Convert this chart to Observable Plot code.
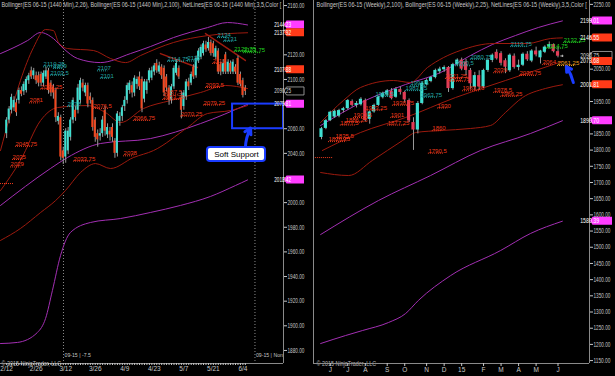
<!DOCTYPE html>
<html><head><meta charset="utf-8">
<script src="https://cdn.jsdelivr.net/npm/d3@7"></script>
<script src="https://cdn.jsdelivr.net/npm/@observablehq/plot@0.6"></script>
<style>
html,body{margin:0;padding:0;background:#000;width:615px;height:376px;overflow:hidden}
#wrap{position:relative;width:615px;height:376px;background:#000}
#left{position:absolute;left:0;top:0}
#right{position:absolute;left:308px;top:0}
</style></head>
<body><div id="wrap"><div id="left"></div><div id="right"></div></div>
<script>
const FONT = '"Liberation Sans","Arial",sans-serif';

// ---------- LEFT PANEL (daily, ES 06-15 1440 Min) ----------
const lHeader = "Bollinger(ES 06-15 (1440 Min),2,26), Bollinger(ES 06-15 (1440 Min),2,100), NetLines(ES 06-15 (1440 Min),3,5,Color [";
const lOpen  = [2056,2067,2075,2077,2081,2083,2091,2090,2091,2099,2107,2103,2103,2103,2104,2097,2102,2107,2097,2094,2091,2066,2069,2042,2037,2042,2053,2067,2075,2075,2083,2097,2089,2095,2086,2083,2067,2056,2054,2056,2075,2055,2058,2061,2050,2040,2066,2070,2078,2083,2091,2095,2089,2096,2102,
                2100,2084,2091,2099,2101,2106,2113,2106,2110,2109,2102,2093,2083,2094,2105,2109,2085,2078,2086,2098,2097,2110,2103,2115,2118,2121,2128,2125,2130,2129,2118,2123,2112,2106,2120,2106,2113,2106,2110,2117,2104,2099,2093];
const lHigh  = [2069,2078,2088,2086,2084,2093,2094,2098,2102,2105,2110,2109,2106,2106,2106,2107,2110,2109,2099,2096,2093,2073,2071,2045,2060,2061,2069,2085,2078,2096,2101,2100,2097,2097,2089,2085,2069,2059,2060,2070,2078,2064,2061,2064,2052,2074,2073,2079,2086,2097,2099,2098,2103,2102,2106,
                2102,2100,2100,2109,2110,2113,2116,2114,2112,2111,2104,2095,2096,2111,2116,2111,2090,2091,2100,2101,2106,2112,2119,2125,2128,2131,2131,2134,2132,2131,2127,2125,2114,2116,2122,2116,2115,2116,2112,2119,2106,2101,2095];
const lLow   = [2052,2064,2072,2074,2070,2080,2086,2087,2089,2096,2100,2100,2096,2094,2094,2094,2100,2088,2086,2084,2065,2063,2034,2031,2032,2039,2050,2064,2066,2072,2080,2090,2086,2077,2080,2058,2049,2045,2050,2053,2054,2052,2050,2049,2036,2037,2062,2066,2074,2080,2088,2085,2086,2092,2091,
                2073,2081,2088,2097,2099,2103,2105,2104,2100,2086,2090,2079,2080,2092,2103,2100,2068,2075,2083,2091,2095,2100,2101,2113,2116,2119,2122,2123,2119,2118,2116,2104,2103,2104,2104,2104,2104,2104,2104,2095,2094,2085,2087];
const lClose = [2067,2076,2085.5,2083,2073,2091,2088,2096,2100,2103,2102,2107,2099,2097,2097,2105,2107,2091,2089,2089,2069,2070,2037,2036,2058,2058,2067,2083,2069,2093,2099,2093,2095,2080,2083,2061,2053,2051,2056,2067,2058,2061,2055,2053,2040,2072,2070,2077,2083,2095,2097,2089,2101,2100,2094,
                2076,2098,2098,2107,2107,2111,2107,2111,2103,2089,2093,2083,2094,2109,2113,2102,2075,2089,2098,2094,2104,2102,2117,2123,2126,2129,2124,2130,2121,2121,2125,2106,2106,2113,2106,2114,2106,2114,2106,2097,2096,2087,2090.25];

const lXLabels = ["2/12","2/26","3/12","3/26","4/9","4/23","5/7","5/21","6/4"];
const lXLabelIdx = [0,12,24,36,48,60,72,84,96];
const lYTicks = [1880,1900,1920,1940,1960,1980,2000,2020,2040,2060,2080,2100,2120,2140,2160];
const lXDomain = [-2.5, 112.5];
const lYDomain = [1869.4, 2164.1];
const lSessionLines = [23.1, 100.9];
const lSessionText = ["09-15 | -7.5", "09-15 | Non"];

// Bollinger bands [bar index, price]
const lBB100Upper = [[-2.5,2121],[8.5,2131.6],[13.8,2138.1],[19,2133.2],[23.1,2125.1],[28.8,2117],[38.1,2113.7],[50.3,2121],[58.4,2126.7],[67.8,2134],[81.6,2142.1],[89.7,2146.2],[97.9,2144.23]];
const lBB100Mid   = [[-2.5,1997.7],[17.8,2027.7],[24.7,2036.6],[38.1,2048],[58.4,2052],[78.8,2064.2],[97.9,2079.81]];
const lBB100Lower = [[-2.5,1885.6],[4.4,1886.5],[12.5,1894.6],[15.8,1905.9],[18.6,1928.7],[21.9,1957.1],[25.9,1975.7],[34.1,1983.9],[46.3,1987.1],[58.4,1992],[70.6,1997.7],[82.8,2005],[93,2013.9],[97.9,2018.42]];
const lBB26Upper  = [[-2.5,2042.3],[1.6,2072.3],[5.6,2099.1],[10.9,2125.9],[15.8,2140.5],[19,2139.7],[21.1,2130],[24.7,2125.1],[35.3,2123.5],[42.2,2117],[48.3,2113.7],[54.4,2119.4],[67.8,2130],[81.6,2135.6],[97.9,2137.92]];
const lBB26Mid    = [[-2.5,2009.8],[5.6,2034.2],[13.8,2066.7],[20.7,2077.2],[32.9,2078.8],[40.2,2073.1],[46.3,2065],[55.6,2076.4],[66.6,2082.9],[78.8,2089.4],[88.9,2095.1],[97.9,2092.6]];
const lBB26Lower  = [[-2.5,1969.3],[5.6,1979],[13.8,1992],[19.9,2001.7],[23.9,2009.8],[30,2024.4],[36.1,2031.7],[42.2,2027.7],[51.5,2036.6],[59.7,2042.3],[73.5,2061],[81.6,2072.3],[91,2074.8],[97.9,2078.8]];
const lTrend1 = [[80.8,2137.3],[97,2115.4]];
const lTrend2 = [[62.5,2121],[77.5,2109.7]];

// NetLines levels
const lLevelText = ["2110.25","2109","2103.5","2092.25","2081","2078","2076.5","2107","2101","2066.75","2045.75","2035","2029","2033.75","2038","2114.75","2115","2134","2131","2122.75","2121.75","2113","2093.5","2087.5","2083.75","2079.25","2070.25"];
const lLevelIdx  = [15.0,19.0,17.8,13.8,9.3,24.7,35.3,36.9,38.1,51.5,3.6,2.4,1.6,27.2,47.5,65.4,73.5,85.7,88.2,92.5,96.2,83.7,80.8,63.8,63.4,80.0,70.7];
const lLevelKind = ["t","t","t","r","r","t","r","t","t","r","r","r","r","r","r","t","t","t","t","g","g","r","r","r","r","r","r"];
const lDotLevel = [2015.5];
const lDotFrom = [-2.5], lDotTo = [3];

// axis markers
const lBoxVals  = [2144.23, 2137.92, 2107.88, 2090.25, 2079.81, 2018.42];
const lBoxKinds = ["m","r","r","k","m","m"];

// Soft support annotation (index / price space)
const supportZone = [2060, 2080];
const supportFromIdx = 91.8;
const calloutText = "Soft Support";
const calloutIdx = [81.6, 105.2];
const calloutPrice = [2033.4, 2044.7];
const lArrowFrom = [97.0, 2044.7], lArrowTo = [99.1, 2060.6];

// ---------- RIGHT PANEL (weekly) ----------
const rHeader = "Bollinger(ES 06-15 (Weekly),2,100), Bollinger(ES 06-15 (Weekly),2,25), NetLines(ES 06-15 (Weekly),3,5,Color [";
const rOpen  = [1839,1867,1891,1902,1905,1922,1928,1950,1938,1940,1953,1895,1918,1938,1962,1970,1982,1963,1987,1978,1953,1885,1862,1944,2002,2012,2024,2042,2048,2055,1990,2064,2078,2072,2046,1994,2030,1995,2046,2077,2102,2098,2076,2045,2090,2055,2062,2096,2075,2106,2085,2102,2118,2126,2104,2090.75];
const rHigh  = [1870,1895,1920,1924,1926,1932,1956,1955,1950,1962,1958,1921,1942,1966,1979,1987,1990,1993,1995,1982,1958,1900,1950,2010,2020,2028,2050,2056,2060,2058,2068,2082,2084,2080,2052,2040,2045,2050,2082,2097,2110,2104,2082,2097,2097,2078,2100,2104,2110,2118,2108,2122,2134,2128,2117,2093];
const rLow   = [1832,1863,1888,1898,1900,1915,1924,1933,1930,1936,1888,1880,1914,1935,1958,1966,1955,1960,1970,1946,1885,1799,1850,1940,1998,2008,2020,2035,2040,1978,1985,2058,2045,2030,1988,1985,1985,1990,2040,2070,2078,2060,2036,2040,2050,2045,2058,2074,2070,2088,2066,2098,2112,2100,2085,2086];
const rClose = [1866,1891,1917,1920,1922,1928,1953,1938,1944,1957,1891,1918,1938,1963,1975,1983,1959,1987,1978,1955,1890,1862,1944,2006,2015,2024,2046,2050,2055,1990,2064,2078,2050,2046,2005,2030,1995,2046,2077,2093,2082,2068,2056,2093,2055,2062,2096,2079,2106,2094,2106,2118,2126,2104,2090,2090.75];

const rXLabels = ["J","J","A","S","O","N","D","15","F","M","A","M","J"];
const rXLabelIdx = [2,6,10,15,19,24,28,32,37,41,45,49,54];
const rYTicks = [1150,1200,1250,1300,1350,1400,1450,1500,1550,1600,1650,1700,1750,1800,1850,1900,1950,2000,2050,2100,2150,2200,2250];
const rXDomain = [-1.83, 61.19];
const rYDomain = [1141, 2262];

const rBB100Upper = [[-0.2,1876],[10,1953],[19.2,2002.6],[27.2,2039.6],[34,2092],[39,2126],[44.3,2153.9],[49.5,2178.6],[55,2199.01]];
const rBB100Mid   = [[-0.2,1539.3],[13,1644.3],[24.9,1721.5],[36.3,1798.8],[47.7,1851.2],[55,1890.7]];
const rBB100Lower = [[-0.2,1202.7],[5.5,1227.4],[9.4,1243],[15.3,1267.6],[19.2,1295.3],[22.1,1335.5],[29.5,1412.7],[40.9,1490],[47.7,1542.4],[55,1580.39]];
const rBB25Upper  = [[-0.2,1885.2],[5,1953.2],[8.9,1993.3],[16.4,2014.9],[20.3,2008.8],[24.2,2055.1],[27.9,2086],[31.7,2107.6],[39.3,2129.2],[47,2129.2],[52.3,2144.6],[55,2146.55]];
const rBB25Mid    = [[0.2,1798.8],[8.9,1854.3],[19.2,1900.7],[30.6,1962.4],[42,2014.9],[55,2073.68]];
const rBB25Lower  = [[-0.2,1730.8],[6.2,1721.5],[11.6,1767.9],[18.5,1829.6],[21.5,1854.3],[27.2,1860.5],[34,1866.7],[38.6,1876],[42,1916.1],[45.9,1962.4],[51.1,1990.2],[55,2001.81]];

const rLevelText = ["1835.5","1826.25","1877.5","1886.25","1900.5","1923.25","1901","1877.25","1938.75","1930","1860","1790.5","2021.25","2012.75","1983.25","1978.5","1966.25","2039","2030.75","2064","2061.25","1965.5","1983.75","1998.5","1963.75","2060.5","2080.75","2119.75","2132.25","2114.75"];
const rLevelIdx  = [3.2,1.6,4.3,5.5,7.3,10,15.8,15.1,16.2,26.5,25.3,24.4,28.3,29,32.2,39.3,40.9,39.3,45.2,50.5,53.9,12.3,19.2,20.3,22.6,30.6,34,43.2,55.3,51.4];
const rLevelKind = ["r","r","r","r","r","r","r","r","r","r","r","r","r","r","r","r","r","r","r","r","o","t","t","t","t","t","t","t","g","g"];
const rDotLevel = [1777];
const rDotFrom = [-1.8], rDotTo = [2.7];

const rBoxVals  = [2199.01, 2146.55, 2090.75, 2073.68, 2001.81, 1890.70, 1580.39];
const rBoxKinds = ["m","r","k","r","r","m","m"];
const rArrowFrom = [57.5, 2008.8], rArrowTo = [55.9, 2058];

const copyright = "\u00a9 2015 NinjaTrader, LLC";

// ---------- styles ----------
const C = {
  up: "#3fe0d2", dnL: "#f2461e", dnR: "#e23c56", wick: "#9a9a9a",
  purple: "#a32fb3", dred: "#9c1a0e", axis: "#8a8a8a", text: "#c8c8c8",
  r: "#ee3a1c", t: "#23a7a7", g: "#22d422", o: "#f0a020", blue: "#1a3cff"
};
const boxFill = {m: "#ff3cff", r: "#ff3a18", k: "#000"};
const SVGNS = "http://www.w3.org/2000/svg";

function bars(o,h,l,c){ return o.map((v,i)=>({i, o:v, h:h[i], l:l[i], c:c[i]})); }
function levels(t,x,k,pxPerUnit){ return t.map((s,i)=>({t:s, v:+s, x:x[i], x2:x[i] + s.length*2.6/pxPerUnit, c:C[k[i]]})); }
function bandLine(data, stroke){ return Plot.line(data, {x: d=>d[0], y: d=>d[1], stroke, strokeWidth: 1, curve: "monotone-x"}); }

function candleMarks(data, half, dn){
  return [
    Plot.ruleX(data, {x: "i", y1: "l", y2: "h", stroke: d => d.o === d.c ? "#bbb" : C.wick, strokeWidth: 1}),
    Plot.rect(data.filter(d=>d.o!==d.c), {x1: d=>d.i-half, x2: d=>d.i+half, y1: "o", y2: "c", fill: d => d.c > d.o ? C.up : dn}),
    Plot.ruleY(data.filter(d=>d.o===d.c), {y: "o", x1: d=>d.i-half, x2: d=>d.i+half, stroke: "#bbb"})
  ];
}
function levelMarks(lv){
  return [
    Plot.ruleY(lv, {y: "v", x1: "x", x2: "x2", stroke: "c", strokeDasharray: "1,1", strokeWidth: 1}),
    Plot.text(lv, {x: "x", y: "v", text: "t", fill: "c", textAnchor: "start", lineAnchor: "bottom", dy: -0.5, fontSize: 6})
  ];
}
// horizontally compress a text element (keeps glyph height, like the narrow GDI font)
function squeeze(svg, el, width){
  const r = el.getBoundingClientRect();
  if (!r.width || r.width <= width) return;
  const s = width / r.width;
  const parent = el.parentNode;
  const p = svg.createSVGPoint(); p.x = r.left; p.y = r.top;
  const q = p.matrixTransform(parent.getScreenCTM().inverse());
  const g = document.createElementNS(SVGNS, "g");
  g.setAttribute("transform", `translate(${q.x},0) scale(${s},1) translate(${-q.x},0)`);
  parent.insertBefore(g, el); g.appendChild(el);
}
function squeezeByText(svg, str, width){
  d3.select(svg).selectAll("text").filter(function(){ return this.textContent === str; }).each(function(){ squeeze(svg, this, width); });
}
function styleTicks(svg, size, width){
  d3.select(svg).selectAll("g[aria-label='y-axis tick label'] text").attr("font-size", size).each(function(){ squeeze(svg, this, width); });
}
function addBoxes(svg, vals, kinds, x0, w){
  const s = svg.scale("y");
  const yf = d3.scaleLinear(s.domain, s.range);
  const g = d3.select(svg).append("g").attr("font-family", FONT).attr("font-size", 6.8);
  vals.forEach((v,i)=>{
    const y = yf(v), k = kinds[i];
    g.append("path").attr("d", `M${x0},${y}L${x0+2.5},${y-4}H${x0+w}V${y+4}H${x0+2.5}Z`)
      .attr("fill", boxFill[k]).attr("stroke", k==="k" ? "#b0b0b0" : "none").attr("stroke-width", 0.8);
    const t = g.append("text").attr("x", x0+2.5).attr("y", y).attr("dy", "0.35em")
      .attr("fill", k==="k" ? "#d8d8d8" : "#fff").text(v.toFixed(2));
    squeeze(svg, t.node(), w-3);
  });
}
// tick labels that sit under a price marker are hidden, as in the platform
function tickLabeler(ticks, boxes, domain, pxHeight){
  const k = pxHeight/(domain[1]-domain[0]);
  return d => boxes.some(b => Math.abs(b-d)*k < 6) ? "" : d.toFixed(2);
}

// ---------- build left ----------
const lBars = bars(lOpen,lHigh,lLow,lClose);
const lPx = 283/(lXDomain[1]-lXDomain[0]);
const lLv = levels(lLevelText,lLevelIdx,lLevelKind,lPx);
const lLabelMap = new Map(lXLabelIdx.map((d,i)=>[d,lXLabels[i]]));

const left = Plot.plot({
  width: 305, height: 376, marginLeft: 0, marginRight: 22, marginTop: 0, marginBottom: 13,
  style: {background: "#000", color: C.text, fontSize: "6.5px", fontFamily: FONT, overflow: "visible"},
  x: {domain: lXDomain, axis: null},
  y: {domain: lYDomain, axis: null},
  marks: [
    Plot.ruleX(lSessionLines, {stroke: "#8a8a8a", strokeDasharray: "1,2"}),
    bandLine(lBB100Upper, C.purple), bandLine(lBB100Mid, C.purple), bandLine(lBB100Lower, C.purple),
    bandLine(lBB26Upper, C.dred), bandLine(lBB26Mid, C.dred), bandLine(lBB26Lower, C.dred),
    Plot.line(lTrend1, {x: d=>d[0], y: d=>d[1], stroke: C.dred}),
    Plot.line(lTrend2, {x: d=>d[0], y: d=>d[1], stroke: C.dred}),
    ...candleMarks(lBars, 0.4, C.dnL),
    ...levelMarks(lLv),
    Plot.ruleY(lDotLevel, {y: d=>d, x1: lDotFrom[0], x2: lDotTo[0], stroke: C.r, strokeDasharray: "1,1"}),
    Plot.rect([supportZone], {x1: supportFromIdx, x2: lXDomain[1], y1: d=>d[0], y2: d=>d[1], stroke: C.blue, strokeWidth: 2, fill: "none"}),
    Plot.arrow([0], {x1: lArrowFrom[0], y1: lArrowFrom[1], x2: lArrowTo[0], y2: lArrowTo[1], stroke: C.blue, strokeWidth: 3, headLength: 3.5, bend: 12}),
    Plot.rect([0], {x1: calloutIdx[0], x2: calloutIdx[1], y1: calloutPrice[0], y2: calloutPrice[1], fill: "#fff", stroke: C.blue, strokeWidth: 2, rx: 3}),
    Plot.text([calloutText], {x: (calloutIdx[0]+calloutIdx[1])/2, y: (calloutPrice[0]+calloutPrice[1])/2, text: d=>d, fill: "#000", fontSize: 8}),
    Plot.text(lSessionText, {x: (d,i)=>lSessionLines[i], text: d=>d, frameAnchor: "bottom", lineAnchor: "bottom", textAnchor: "start", dx: 1, dy: -7, fill: "#c4c4c4", fontSize: 6}),
    Plot.text([lHeader], {text: d=>d, frameAnchor: "top-left", lineAnchor: "top", textAnchor: "start", dx: 1, dy: 2, fill: "#c8c8c8", fontSize: 7}),
    Plot.text([copyright], {text: d=>d, frameAnchor: "bottom-left", lineAnchor: "bottom", textAnchor: "start", dx: 1, dy: 2, fill: "#b0b0b0", fontSize: 6.5}),
    Plot.ruleX([lXDomain[1]], {stroke: C.axis}),
    Plot.ruleY([lYDomain[0]], {stroke: C.axis}),
    Plot.axisY(lYTicks, {anchor: "right", tickFormat: tickLabeler(lYTicks, lBoxVals, lYDomain, 363), tickSize: 3, tickPadding: 1, color: C.text, label: null}),
    Plot.axisX(lBars.map(d=>d.i), {anchor: "bottom", tickFormat: d=>lLabelMap.get(d) ?? "", tickSize: 2, tickPadding: 1, color: C.text, label: null})
  ]
});
document.getElementById("left").appendChild(left);
squeezeByText(left, lHeader, 280);
squeezeByText(left, copyright, 60);
lSessionText.forEach(s => squeezeByText(left, s, 27));
styleTicks(left, 7, 17);
addBoxes(left, lBoxVals, lBoxKinds, 284, 20);

// ---------- build right ----------
const rBars = bars(rOpen,rHigh,rLow,rClose);
const rPx = 276/(rXDomain[1]-rXDomain[0]);
const rLv = levels(rLevelText,rLevelIdx,rLevelKind,rPx);
const rLabelMap = new Map(rXLabelIdx.map((d,i)=>[d,rXLabels[i]]));

const right = Plot.plot({
  width: 307, height: 376, marginLeft: 5, marginRight: 26, marginTop: 0, marginBottom: 13,
  style: {background: "#000", color: C.text, fontSize: "6.5px", fontFamily: FONT, overflow: "visible"},
  x: {domain: rXDomain, axis: null},
  y: {domain: rYDomain, axis: null},
  marks: [
    bandLine(rBB100Upper, C.purple), bandLine(rBB100Mid, C.purple), bandLine(rBB100Lower, C.purple),
    bandLine(rBB25Upper, C.dred), bandLine(rBB25Mid, C.dred), bandLine(rBB25Lower, C.dred),
    ...candleMarks(rBars, 0.36, C.dnR),
    ...levelMarks(rLv),
    Plot.ruleY(rDotLevel, {y: d=>d, x1: rDotFrom[0], x2: rDotTo[0], stroke: C.r, strokeDasharray: "1,1"}),
    Plot.arrow([0], {x1: rArrowFrom[0], y1: rArrowFrom[1], x2: rArrowTo[0], y2: rArrowTo[1], stroke: C.blue, strokeWidth: 3, headLength: 3.5, bend: -10}),
    Plot.text([rHeader], {text: d=>d, frameAnchor: "top-left", lineAnchor: "top", textAnchor: "start", dx: 3, dy: 2, fill: "#c8c8c8", fontSize: 7}),
    Plot.text([copyright], {text: d=>d, frameAnchor: "bottom-left", lineAnchor: "bottom", textAnchor: "start", dx: 3, dy: 2, fill: "#b0b0b0", fontSize: 6.5}),
    Plot.ruleX([rXDomain[0]], {stroke: C.axis}),
    Plot.ruleX([rXDomain[1]], {stroke: C.axis}),
    Plot.ruleY([rYDomain[0]], {stroke: C.axis}),
    Plot.axisY(rYTicks, {anchor: "right", tickFormat: tickLabeler(rYTicks, rBoxVals, rYDomain, 363), tickSize: 3, tickPadding: 1, color: C.text, label: null}),
    Plot.axisX(rXLabelIdx, {anchor: "bottom", tickFormat: d=>rLabelMap.get(d) ?? "", tickSize: 3, tickPadding: 1, color: C.text, label: null})
  ]
});
document.getElementById("right").appendChild(right);
squeezeByText(right, rHeader, 271);
squeezeByText(right, copyright, 60);
styleTicks(right, 7, 17);
addBoxes(right, rBoxVals, rBoxKinds, 282, 22);
</script>
</body></html>
